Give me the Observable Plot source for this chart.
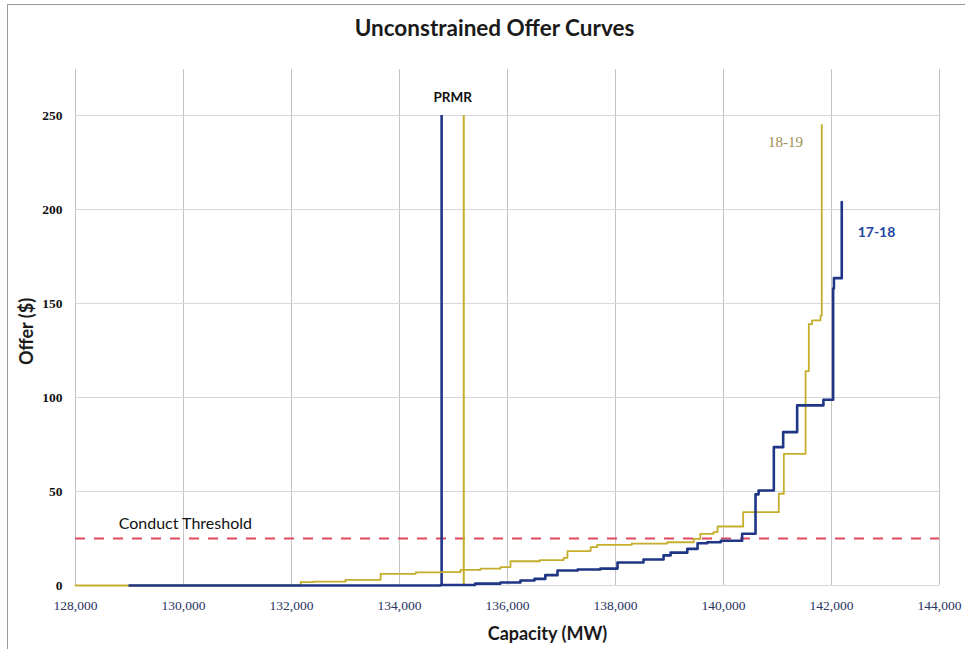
<!DOCTYPE html>
<html>
<head>
<meta charset="utf-8">
<script src="https://cdn.jsdelivr.net/npm/d3@7"></script>
<script src="https://cdn.jsdelivr.net/npm/@observablehq/plot@0.6"></script>
<style>
  html, body { margin: 0; padding: 0; background: #fff; }
  #wrap { position: relative; width: 965px; height: 649px; }
  #frame { position: absolute; left: 7px; top: 4px; width: 962px; height: 650px; border: 1px solid #9a9a9a; box-sizing: border-box; pointer-events: none; }
</style>
</head>
<body>
<div id="wrap"><div id="frame"></div></div>
<script>
// ---- Data ----
const xTicks = [128000, 130000, 132000, 134000, 136000, 138000, 140000, 142000, 144000];
const yTicks = [0, 50, 100, 150, 200, 250];

const seriesNames = ["17-18", "18-19"];
const seriesColors = ["#1f3585", "#c4ae2c"];

// 17-18 offer curve (step-after vertices: capacity MW, offer $)
const capacity1718 = [129000, 134760, 135400, 135870, 136240, 136500, 136700, 136926, 137300, 137720, 138037, 138518, 138890, 139020, 139330, 139520, 139700, 139950, 140345, 140593, 140650, 140932, 141105, 141364, 141850, 142030, 142045, 142190];
const offer1718    = [0,      0.3,    1.0,    1.6,    2.7,    3.5,    5.5,    8,      8.5,    9,      12.2,   13.8,   16,     17.5,   19.5,   22.5,   23,     23.8,   27.5,   48.5,   50.5,   73.6,   81.6,   95.8,   98.8,   158,    163.5,  204];

// 18-19 offer curve
const capacity1819 = [128000, 132170, 132410, 133000, 133650, 134300, 134760, 135130, 135500, 135870, 136056, 136600, 137040, 137110, 137540, 137660, 138300, 138960, 139450, 139570, 139815, 139890, 140364, 141024, 141117, 141520, 141580, 141640, 141796, 141820];
const offer1819    = [0,      1.8,    2.1,    3,      6.2,    7,      7.1,    8.3,    9,      9.8,    12.9,   13.5,   14.7,   18.3,   20.4,   21.6,   22.3,   23,     24.8,   27.5,   28.4,   31.4,   39.0,   48.8,   70,     114,    139,    141,    143.6,  245];

// PRMR vertical lines
const prmrCapacity = [134780, 135190];
const prmrTop = 250;

// Conduct threshold
const conductThreshold = 25;

// ---- Build tables ----
const curve1718 = capacity1718.map((c, i) => ({capacity: c, offer: offer1718[i], series: seriesNames[0]}));
const curve1819 = capacity1819.map((c, i) => ({capacity: c, offer: offer1819[i], series: seriesNames[1]}));
const prmrRows = prmrCapacity.map((c, i) => ({capacity: c, series: seriesNames[i]}));
const colorOf = s => seriesColors[seriesNames.indexOf(s)];

const sans = "Lato, 'Open Sans', sans-serif";
const serif = "'Liberation Serif', 'DejaVu Serif', serif";

const chart = Plot.plot({
  width: 965,
  height: 649,
  marginLeft: 75,
  marginRight: 26,
  marginTop: 69,
  marginBottom: 64,
  style: {background: "transparent", fontFamily: sans},
  x: {domain: [128000, 144000]},
  y: {domain: [0, 274.5]},
  marks: [
    Plot.gridX(xTicks, {stroke: "#c4c4c4", strokeOpacity: 1, strokeWidth: 1}),
    Plot.gridY(yTicks, {stroke: "#d6d6e2", strokeOpacity: 1, strokeWidth: 1}),
    Plot.axisX({ticks: xTicks, tickFormat: d3.format(","), tickSize: 0, tickPadding: 15, label: null,
      fontFamily: serif, fontSize: 13.5, fill: "#27345e"}),
    Plot.axisY({ticks: yTicks, tickSize: 0, tickPadding: 13, label: null,
      fontFamily: serif, fontSize: 13.5, fontWeight: "bold", fill: "#111"}),
    Plot.ruleY([conductThreshold], {stroke: "#e0485e", strokeWidth: 2.2, strokeDasharray: "10,9"}),
    Plot.ruleX(prmrRows, {x: "capacity", y1: 0, y2: prmrTop, stroke: d => colorOf(d.series),
      strokeWidth: d => d.series === "17-18" ? 2.6 : 2}),
    Plot.line(curve1819, {x: "capacity", y: "offer", curve: "step-after", stroke: seriesColors[1], strokeWidth: 1.8}),
    Plot.line(curve1718, {x: "capacity", y: "offer", curve: "step-after", stroke: seriesColors[0], strokeWidth: 2.6}),
    // annotations
    Plot.text(["PRMR"], {x: (prmrCapacity[0] + prmrCapacity[1]) / 2, y: 259.6, text: d => d,
      fontWeight: "bold", fontSize: 13.5, fill: "#111"}),
    Plot.text(["Conduct Threshold"], {x: 128800, y: 33, text: d => d, textAnchor: "start",
      fontSize: 16, fill: "#111"}),
    Plot.text([seriesNames[1]], {x: 141148, y: 235.7, text: d => d, fontFamily: serif,
      fontSize: 15, fill: "#9c9150"}),
    Plot.text([seriesNames[0]], {x: 142833, y: 187.8, text: d => d,
      fontSize: 14, fontWeight: "bold", fill: "#2544a0"}),
    // titles
    Plot.text(["Unconstrained Offer Curves"], {frameAnchor: "top", dx: -13, dy: -41, text: d => d,
      lineAnchor: "middle", textAnchor: "middle",
      fontSize: 22.5, fontWeight: "bold", fill: "#1a1a1a"}),
    Plot.text(["Capacity (MW)"], {frameAnchor: "bottom", dx: 40, dy: 49, text: d => d,
      lineAnchor: "middle", textAnchor: "middle",
      fontSize: 18, fontWeight: "bold", fill: "#1a1a1a"}),
    Plot.text(["Offer ($)"], {frameAnchor: "left", dx: -48, dy: 4, rotate: -90, text: d => d,
      lineAnchor: "middle", textAnchor: "middle",
      fontSize: 18, fontWeight: "bold", fill: "#1a1a1a"})
  ]
});
document.getElementById("wrap").prepend(chart);
</script>
</body>
</html>
